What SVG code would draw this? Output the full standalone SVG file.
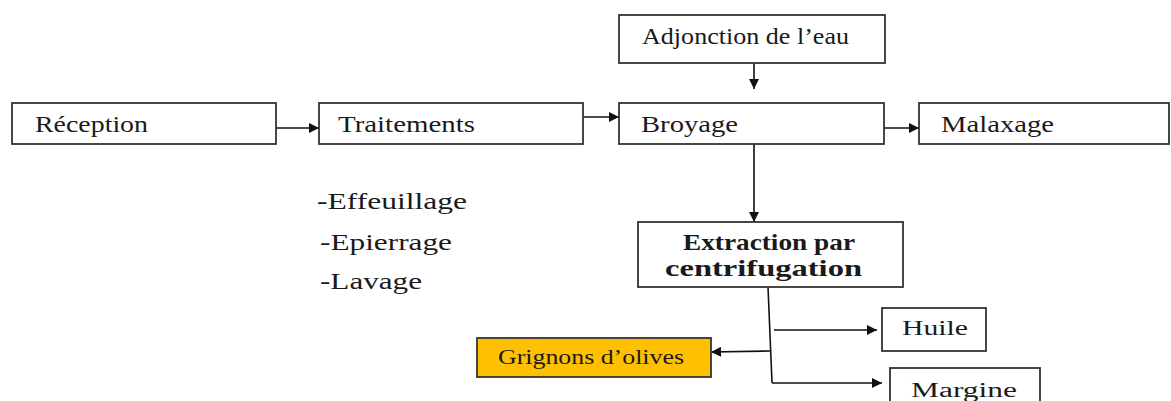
<svg xmlns="http://www.w3.org/2000/svg" width="1171" height="401" viewBox="0 0 1171 401">
<defs>
<marker id="ah" viewBox="0 0 10 10" refX="10" refY="5" markerWidth="11" markerHeight="10" markerUnits="userSpaceOnUse" orient="auto">
<path d="M0,0 L10,5 L0,10 z" fill="#111"/>
</marker>
<style>
.box{fill:#fff;stroke:#333;stroke-width:1.8}
.org{fill:#FFC000;stroke:#333;stroke-width:1.8}
.t{font-family:"Liberation Serif","Times New Roman",serif;fill:#1a1a1a;font-size:23px}
.b{font-weight:bold;font-size:24px}
.s{font-size:20px}
.ln{fill:none;stroke:#111;stroke-width:1.6}
</style>
</defs>
<rect width="1171" height="401" fill="#fff"/>
<g id="connectors">
<line class="ln" x1="276" y1="128" x2="319" y2="128" marker-end="url(#ah)"/>
<line class="ln" x1="583" y1="117" x2="619" y2="117" marker-end="url(#ah)"/>
<line class="ln" x1="884" y1="128" x2="919" y2="128" marker-end="url(#ah)"/>
<line class="ln" x1="754" y1="50" x2="754" y2="89" marker-end="url(#ah)"/>
<line class="ln" x1="754" y1="144" x2="754" y2="222" marker-end="url(#ah)"/>
<line class="ln" x1="768" y1="287" x2="772" y2="383"/>
<line class="ln" x1="774" y1="330" x2="877" y2="330" marker-end="url(#ah)"/>
<line class="ln" x1="770" y1="351" x2="711" y2="352" marker-end="url(#ah)"/>
<line class="ln" x1="772" y1="383" x2="882" y2="383" marker-end="url(#ah)"/>
</g>
<g id="reception"><rect class="box" x="12" y="103" width="264" height="41"/><text class="t" x="35" y="132" textLength="113" lengthAdjust="spacingAndGlyphs">Réception</text></g>
<g id="traitements"><rect class="box" x="319" y="103" width="264" height="41"/><text class="t" x="338" y="132" textLength="137" lengthAdjust="spacingAndGlyphs">Traitements</text></g>
<g id="broyage"><rect class="box" x="619" y="103" width="265" height="41"/><text class="t" x="641" y="132" textLength="97" lengthAdjust="spacingAndGlyphs">Broyage</text></g>
<g id="malaxage"><rect class="box" x="919" y="103" width="250" height="41"/><text class="t" x="941" y="132" textLength="113" lengthAdjust="spacingAndGlyphs">Malaxage</text></g>
<g id="adjonction"><rect class="box" x="619" y="15" width="266" height="48"/><text class="t" x="642" y="44" textLength="207" lengthAdjust="spacingAndGlyphs">Adjonction de l’eau</text></g>
<g id="sous-etapes">
<text class="t" x="317" y="209" textLength="150" lengthAdjust="spacingAndGlyphs">-Effeuillage</text>
<text class="t" x="320" y="250" textLength="132" lengthAdjust="spacingAndGlyphs">-Epierrage</text>
<text class="t" x="320" y="289" textLength="102" lengthAdjust="spacingAndGlyphs">-Lavage</text>
</g>
<g id="extraction"><rect class="box" x="638" y="222" width="265" height="65"/>
<text class="t b" x="683" y="250" textLength="172" lengthAdjust="spacingAndGlyphs">Extraction par</text>
<text class="t b" x="665" y="276" textLength="197" lengthAdjust="spacingAndGlyphs">centrifugation</text></g>
<g id="huile"><rect class="box" x="882" y="308" width="104" height="43"/><text class="t s" x="902" y="335" textLength="66" lengthAdjust="spacingAndGlyphs">Huile</text></g>
<g id="grignons"><rect class="org" x="477" y="338" width="234" height="39"/><text class="t s" x="498" y="364" textLength="186" lengthAdjust="spacingAndGlyphs">Grignons d’olives</text></g>
<g id="margine"><rect class="box" x="890" y="368" width="150" height="45"/><text class="t s" x="911" y="397" textLength="106" lengthAdjust="spacingAndGlyphs">Margine</text></g>
</svg>
